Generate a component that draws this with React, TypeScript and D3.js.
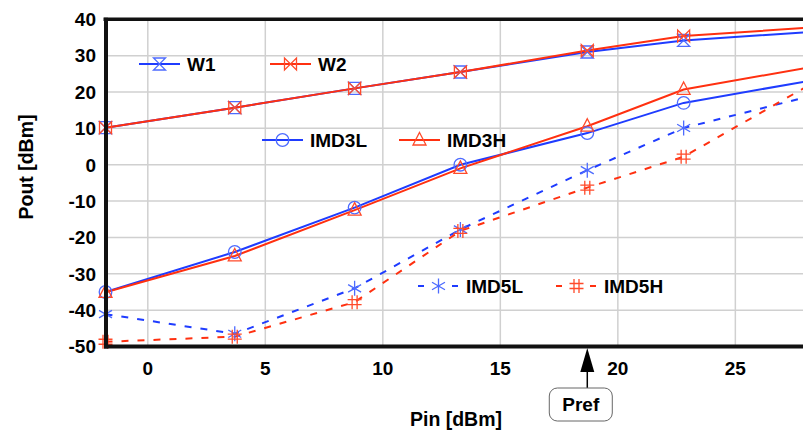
import React from "react";
import * as d3 from "d3";

const pin = [-1.8, 3.7, 8.8, 13.3, 18.7, 22.8, 27.9];
const w1 = [10.2, 15.7, 21.0, 25.5, 31.0, 34.2, 36.4];
const w2 = [10.2, 15.7, 21.0, 25.5, 31.4, 35.4, 37.6];
const imd3l = [-35.0, -24.0, -11.8, 0.0, 8.7, 17.0, 22.8];
const imd3h = [-35.1, -25.1, -12.5, -1.0, 10.6, 20.7, 26.5];
const imd5l = [-41.1, -46.5, -34.0, -17.8, -1.5, 10.1, 18.4];
const imd5h = [-48.7, -47.3, -37.8, -18.2, -6.3, 2.2, 21.0];
const xTicks = [0, 5, 10, 15, 20, 25];
const yTicks = [40, 30, 20, 10, 0, -10, -20, -30, -40, -50];
const prefPin = 18.7;

const BLUE = "#1f3cff";
const RED = "#ff3010";
const BLUE_M = "#4d6bff";
const RED_M = "#ff4a2a";
const FONT = "'Liberation Sans', Arial, sans-serif";

type Shape = "hourglass" | "bowtie" | "circle" | "triangle" | "star" | "hash";

function Marker({ x, y, shape, color }: { x: number; y: number; shape: Shape; color: string }) {
  const s = 6;
  const common = { fill: "none", stroke: color, strokeWidth: 1.3 };
  if (shape === "hourglass")
    return <path {...common} d={`M${x - s},${y - s}H${x + s}L${x - s},${y + s}H${x + s}L${x - s},${y - s}Z`} />;
  if (shape === "bowtie")
    return <path {...common} d={`M${x - s},${y - s}V${y + s}L${x + s},${y - s}V${y + s}L${x - s},${y - s}Z`} />;
  if (shape === "circle") return <circle {...common} cx={x} cy={y} r={6.3} />;
  if (shape === "triangle")
    return <path {...common} d={`M${x},${y - 7.5}L${x + 6.5},${y + 5}L${x - 6.5},${y + 5}Z`} />;
  if (shape === "star") {
    const r = 7.5;
    const a = Math.cos(Math.PI / 6) * r;
    const b = Math.sin(Math.PI / 6) * r;
    return (
      <path
        {...common}
        d={`M${x},${y - r}V${y + r}M${x - a},${y - b}L${x + a},${y + b}M${x - a},${y + b}L${x + a},${y - b}`}
      />
    );
  }
  return (
    <path
      {...common}
      d={`M${x - 2.5},${y - 7}V${y + 7}M${x + 2.5},${y - 7}V${y + 7}M${x - 7},${y - 2.5}H${x + 7}M${x - 7},${y + 2.5}H${x + 7}`}
    />
  );
}

export default function App() {
  const W = 803;
  const H = 431;
  const left = 105.5;
  const right = 803.5;
  const top = 19.3;
  const bottom = 346.5;
  const x = d3.scaleLinear().domain([-1.8, 27.9]).range([left, right]);
  const y = d3.scaleLinear().domain([-50, 40]).range([bottom, top]);

  const line = d3
    .line<[number, number]>()
    .x((d) => x(d[0]))
    .y((d) => y(d[1]));

  const series = [
    { vals: w1, color: BLUE, mcolor: BLUE_M, shape: "hourglass" as Shape, dash: null },
    { vals: w2, color: RED, mcolor: RED_M, shape: "bowtie" as Shape, dash: null },
    { vals: imd3l, color: BLUE, mcolor: BLUE_M, shape: "circle" as Shape, dash: null },
    { vals: imd3h, color: RED, mcolor: RED_M, shape: "triangle" as Shape, dash: null },
    { vals: imd5l, color: BLUE, mcolor: BLUE_M, shape: "star" as Shape, dash: "7,9" },
    { vals: imd5h, color: RED, mcolor: RED_M, shape: "hash" as Shape, dash: "7,9" },
  ];

  const legends = [
    { label: "W1", lx: 139, ly: 64, color: BLUE, mcolor: BLUE_M, shape: "hourglass" as Shape, dashed: false },
    { label: "W2", lx: 270, ly: 64, color: RED, mcolor: RED_M, shape: "bowtie" as Shape, dashed: false },
    { label: "IMD3L", lx: 262, ly: 140, color: BLUE, mcolor: BLUE_M, shape: "circle" as Shape, dashed: false },
    { label: "IMD3H", lx: 399, ly: 140, color: RED, mcolor: RED_M, shape: "triangle" as Shape, dashed: false },
    { label: "IMD5L", lx: 418, ly: 286, color: BLUE, mcolor: BLUE_M, shape: "star" as Shape, dashed: true },
    { label: "IMD5H", lx: 556, ly: 286, color: RED, mcolor: RED_M, shape: "hash" as Shape, dashed: true },
  ];

  const px = x(prefPin);

  return (
    <svg
      width={W}
      height={H}
      style={{ position: "absolute", left: 0, top: 0, background: "#fff" }}
      fontFamily={FONT}
    >
      <defs>
        <clipPath id="plotclip">
          <rect x={left} y={top - 10} width={right - left} height={bottom - top + 20} />
        </clipPath>
      </defs>
      <rect x={0} y={0} width={W} height={H} fill="#fff" />
      {/* grid */}
      {xTicks.map((t) => (
        <line key={"gx" + t} x1={x(t)} x2={x(t)} y1={top} y2={bottom} stroke="#d0d0d0" strokeWidth={1.5} />
      ))}
      {yTicks.map((t) => (
        <line key={"gy" + t} x1={left} x2={right} y1={y(t)} y2={y(t)} stroke="#d0d0d0" strokeWidth={1.5} />
      ))}
      {/* series */}
      <g clipPath="url(#plotclip)">
        {series.map((s, i) => (
          <path
            key={"l" + i}
            d={line(pin.map((p, j) => [p, s.vals[j]] as [number, number])) || ""}
            fill="none"
            stroke={s.color}
            strokeWidth={2}
            strokeDasharray={s.dash || undefined}
          />
        ))}
      </g>
      {series.map((s, i) => (
        <g key={"m" + i}>
          {pin.slice(0, 6).map((p, j) => (
            <Marker key={j} x={x(p)} y={y(s.vals[j])} shape={s.shape} color={s.mcolor} />
          ))}
        </g>
      ))}
      {/* frame */}
      <line x1={left - 2} x2={right} y1={top} y2={top} stroke="#111" strokeWidth={3.5} />
      <line x1={left + 0.5} x2={left + 0.5} y1={top - 1.5} y2={bottom + 2} stroke="#111" strokeWidth={4} />
      <line x1={left - 1.5} x2={right} y1={bottom} y2={bottom} stroke="#111" strokeWidth={4} />
      {/* tick labels */}
      {yTicks.map((t) => (
        <text
          key={"ty" + t}
          x={96}
          y={y(t)}
          dy="0.36em"
          textAnchor="end"
          fontSize={19}
          fontWeight="bold"
          fill="#000"
        >
          {t}
        </text>
      ))}
      {xTicks.map((t) => (
        <text key={"tx" + t} x={x(t)} y={375} textAnchor="middle" fontSize={19} fontWeight="bold" fill="#000">
          {t}
        </text>
      ))}
      {/* axis titles */}
      <text
        transform="translate(33,167) rotate(-90)"
        textAnchor="middle"
        fontSize={19.5}
        fontWeight="bold"
        fill="#000"
      >
        Pout [dBm]
      </text>
      <text x={456} y={426} textAnchor="middle" fontSize={19.5} fontWeight="bold" fill="#000">
        Pin [dBm]
      </text>
      {/* legends */}
      {legends.map((l) => (
        <g key={l.label}>
          {l.dashed ? (
            <>
              <line x1={l.lx} x2={l.lx + 6} y1={l.ly} y2={l.ly} stroke={l.color} strokeWidth={2} />
              <line x1={l.lx + 34} x2={l.lx + 40} y1={l.ly} y2={l.ly} stroke={l.color} strokeWidth={2} />
            </>
          ) : (
            <line x1={l.lx} x2={l.lx + 41} y1={l.ly} y2={l.ly} stroke={l.color} strokeWidth={2} />
          )}
          <Marker x={l.lx + 20.5} y={l.ly} shape={l.shape} color={l.mcolor} />
          <text x={l.lx + 48} y={l.ly} dy="0.36em" fontSize={19} fontWeight="bold" fill="#000">
            {l.label}
          </text>
        </g>
      ))}
      {/* Pref annotation */}
      <line x1={px} x2={px} y1={370} y2={388} stroke="#000" strokeWidth={1.5} />
      <path d={`M${px},${348}L${px + 7},${372}L${px - 7},${372}Z`} fill="#000" />
      <rect x={px - 38} y={388} width={63} height={33} rx={8} ry={8} fill="#fff" stroke="#666" strokeWidth={1} />
      <text x={px - 6.5} y={404.5} dy="0.36em" textAnchor="middle" fontSize={19} fontWeight="bold" fill="#000">
        Pref
      </text>
    </svg>
  );
}
